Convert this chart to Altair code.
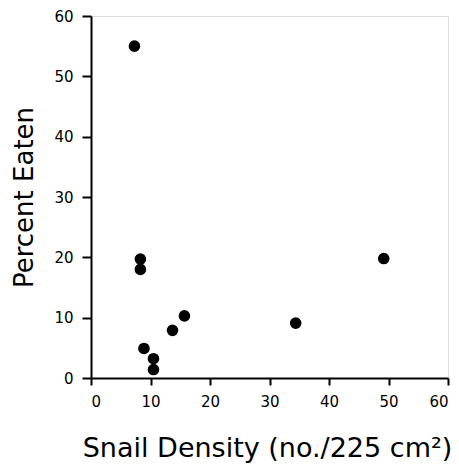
import altair as alt
import pandas as pd

density = [7.3, 8.3, 8.3, 8.9, 10.5, 10.5, 13.7, 15.7, 34.4, 49.2]
eaten = [55.0, 19.7, 18.0, 4.9, 3.2, 1.4, 7.9, 10.3, 9.1, 19.8]

df = pd.DataFrame({"density": density, "eaten": eaten})

FONT = "DejaVu Sans"

chart = (
    alt.Chart(df)
    .mark_circle(size=135, color="black", opacity=1)
    .encode(
        x=alt.X(
            "density:Q",
            scale=alt.Scale(domain=[0, 60], nice=False, zero=True),
            axis=alt.Axis(
                values=[0, 10, 20, 30, 40, 50, 60],
                title="Snail Density (no./225 cm²)",
                titleFontSize=27,
                titleFontWeight="normal",
                titleFont=FONT,
                titleColor="black",
                titleBaseline="alphabetic",
                titleY=78,
                titleX=176,
                labelFont=FONT,
                labelFontSize=15,
                labelColor="black",
                labelPadding=9,
                tickSize=7,
                tickWidth=2,
                domainWidth=2,
                domainColor="black",
                tickColor="black",
                grid=False,
            ),
        ),
        y=alt.Y(
            "eaten:Q",
            scale=alt.Scale(domain=[0, 60], nice=False, zero=True),
            axis=alt.Axis(
                values=[0, 10, 20, 30, 40, 50, 60],
                title="Percent Eaten",
                titleFontSize=26,
                titleFontWeight="normal",
                titleFont=FONT,
                titleColor="black",
                titleAngle=270,
                titleBaseline="alphabetic",
                titleAlign="center",
                titleX=-59,
                titleY=181,
                labelFont=FONT,
                labelFontSize=15,
                labelColor="black",
                labelPadding=9,
                tickSize=9,
                tickWidth=2,
                domainWidth=2,
                domainColor="black",
                tickColor="black",
                grid=False,
            ),
        ),
    )
    .properties(
        width=357,
        height=362,
        autosize=alt.AutoSizeParams(type="none"),
        padding={"left": 83, "top": 8, "right": 3, "bottom": 86},
    )
    .configure_view(stroke=None)
    .configure(background="white")
)

chart.save("out.html", embed_options={"renderer": "svg", "actions": False})
